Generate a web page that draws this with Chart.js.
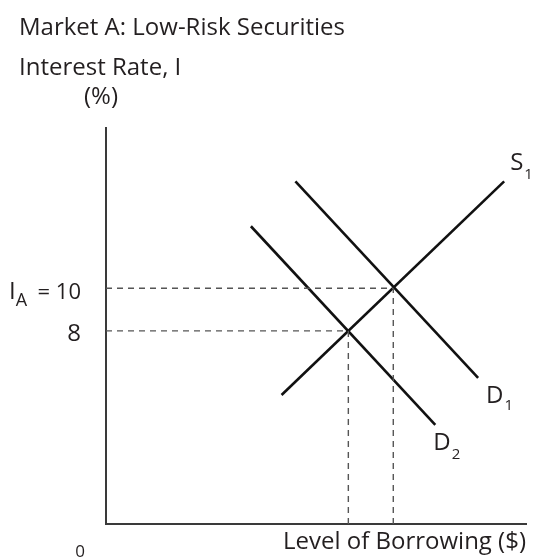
<!DOCTYPE html>
<html>
<head>
<meta charset="utf-8">
<script src="https://cdn.jsdelivr.net/npm/chart.js@4/dist/chart.umd.min.js"></script>
<style>
  html, body { margin: 0; padding: 0; background: #ffffff; }
  canvas { display: block; }
</style>
</head>
<body>
<canvas id="c" width="534" height="559"></canvas>
<script>
// ---- data ----
const chartTitle = 'Market A: Low-Risk Securities';
const yAxisTitle = ['Interest Rate, I', '(%)'];
const xAxisTitle = 'Level of Borrowing ($)';
const originLabel = '0';

// interest rate (%) at the two equilibria, and their tick labels
const rateTicks = [10, 8];
const rateTickLabels = [['I', 'A', ' = 10'], ['', '', '8']];
// level of borrowing (schematic units) at the two equilibria
const eqBorrowing = [68.4, 57.7];

// curves: endpoints (borrowing, rate)
const curveNames = [['S', '1'], ['D', '1'], ['D', '2']];
const s1X = [41.8, 94.8], s1Y = [5.0, 15.0];
const d1X = [45.1, 88.6], d1Y = [15.0, 5.8];
const d2X = [34.5, 78.4], d2Y = [12.9, 3.6];

// axis ranges
const xRange = [0, 100];
const yRange = [-1.04, 17.5];

const pts = (xs, ys) => xs.map((x, i) => ({ x: x, y: ys[i] }));

const INK = '#231f20';
const FONT = '"Open Sans", "Noto Sans", sans-serif';

const curveStyle = { borderColor: '#111111', borderWidth: 2.6, pointRadius: 0, showLine: true, fill: false, borderCapStyle: 'butt' };
const guideStyle = { borderColor: '#555555', borderWidth: 1.4, borderDash: [6, 5], pointRadius: 0, showLine: true, fill: false };

const datasets = [];
// horizontal & vertical guides
rateTicks.forEach((r, i) => {
  datasets.push(Object.assign({ data: [{ x: xRange[0], y: r }, { x: eqBorrowing[i], y: r }] }, guideStyle));
  datasets.push(Object.assign({ data: [{ x: eqBorrowing[i], y: yRange[0] }, { x: eqBorrowing[i], y: r }] }, guideStyle));
});
datasets.push(Object.assign({ label: 'S1', data: pts(s1X, s1Y) }, curveStyle));
datasets.push(Object.assign({ label: 'D1', data: pts(d1X, d1Y) }, curveStyle));
datasets.push(Object.assign({ label: 'D2', data: pts(d2X, d2Y) }, curveStyle));

function subText(ctx, main, sub, x, y, mainSize, subSize, subDrop) {
  ctx.font = mainSize + 'px ' + FONT;
  ctx.fillText(main, x, y);
  const w = ctx.measureText(main).width;
  ctx.font = subSize + 'px ' + FONT;
  ctx.fillText(sub, x + w + 1, y + subDrop);
}

const textPlugin = {
  id: 'texts',
  afterDraw(chart) {
    const ctx = chart.ctx;
    const xs = chart.scales.x, ys = chart.scales.y;
    ctx.save();
    ctx.fillStyle = INK;
    ctx.textBaseline = 'alphabetic';
    ctx.textAlign = 'left';
    // titles
    ctx.font = '24px ' + FONT;
    ctx.fillText(chartTitle, 19, 35);
    ctx.fillText(yAxisTitle[0], 19, 75);
    ctx.textAlign = 'center';
    ctx.fillText(yAxisTitle[1], 101, 104);
    ctx.textAlign = 'right';
    ctx.fillText(xAxisTitle, 526, 549);
    ctx.textAlign = 'center';
    ctx.font = '17px ' + FONT;
    ctx.fillText(originLabel, 80, 557);

    // rate tick labels
    rateTicks.forEach((r, i) => {
      const py = ys.getPixelForValue(r);
      const [m, s, rest] = rateTickLabels[i];
      ctx.textAlign = 'left';
      let x = 9;
      if (m) {
        ctx.font = '24px ' + FONT;
        ctx.fillText(m, x, py + 11);
        x += ctx.measureText(m).width;
        ctx.font = '18px ' + FONT;
        ctx.fillText(s, x, py + 18);
        x += ctx.measureText(s).width;
        ctx.font = '22px ' + FONT;
        ctx.textAlign = 'right';
        ctx.fillText(rest, 81, py + 11);
      } else {
        ctx.font = '24px ' + FONT;
        ctx.textAlign = 'right';
        ctx.fillText(rest, 81, py + 10);
      }
    });

    // curve labels
    ctx.textAlign = 'left';
    const ends = [
      { x: s1X[1], y: s1Y[1], dx: 6, dy: -11, sd: 9 },
      { x: d1X[1], y: d1Y[1], dx: 8, dy: 25, sd: 7 },
      { x: d2X[1], y: d2Y[1], dx: -2, dy: 25, sd: 9 }
    ];
    ends.forEach((e, i) => {
      const px = xs.getPixelForValue(e.x), py = ys.getPixelForValue(e.y);
      subText(ctx, curveNames[i][0], curveNames[i][1], px + e.dx, py + e.dy, 24, 15, e.sd);
    });
    ctx.restore();
  }
};

new Chart(document.getElementById('c'), {
  type: 'scatter',
  data: { datasets: datasets },
  options: {
    responsive: false,
    animation: false,
    devicePixelRatio: 1,
    layout: { padding: { left: 106, right: 8, top: 128, bottom: 35 } },
    plugins: { legend: { display: false }, tooltip: { enabled: false }, title: { display: false } },
    scales: {
      x: {
        type: 'linear', min: xRange[0], max: xRange[1],
        ticks: { display: false },
        grid: { display: false, drawTicks: false },
        border: { display: true, color: '#3a3a3a', width: 2 }
      },
      y: {
        type: 'linear', min: yRange[0], max: yRange[1],
        ticks: { display: false },
        grid: { display: false, drawTicks: false },
        border: { display: true, color: '#3a3a3a', width: 2 }
      }
    }
  },
  plugins: [textPlugin]
});
</script>
</body>
</html>
